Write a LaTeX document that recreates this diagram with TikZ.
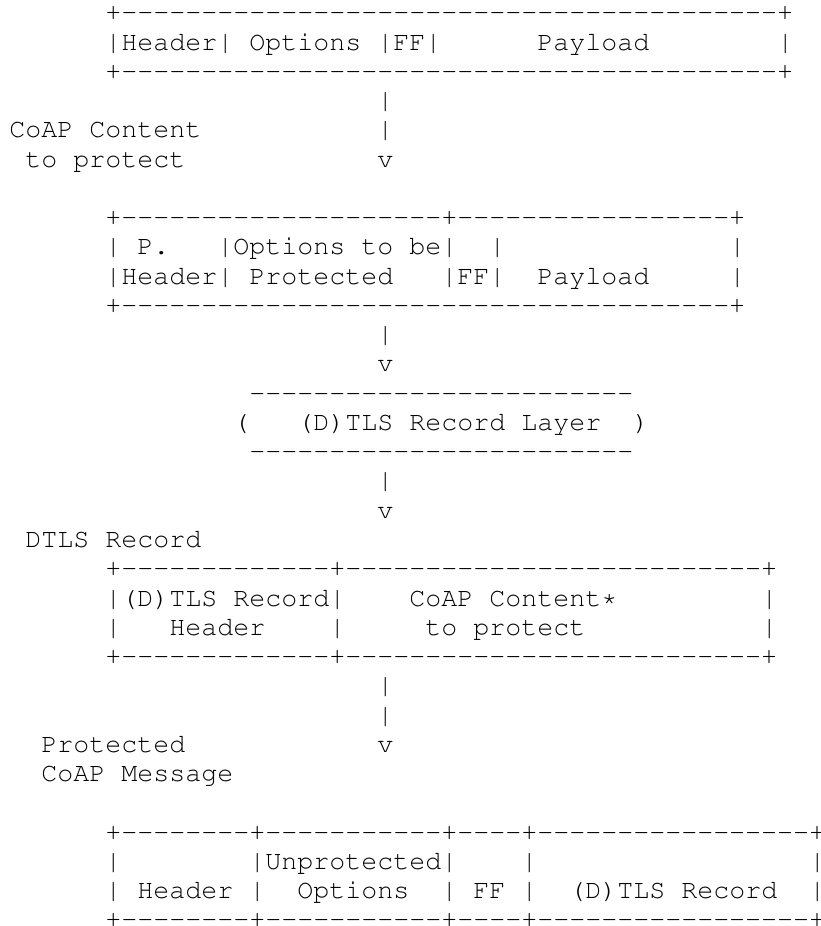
\documentclass[tikz,border=0pt]{standalone}
\usepackage[T1]{fontenc}
\usepackage{courier}
\usepackage{tikz}
\newcommand{\asciifont}{\ttfamily\fontsize{13.33}{14.63}\selectfont}
% a run of single hyphens, kept apart so that no -- ligature forms
\newcommand{\dashrun}[1]{\foreach \k in {1,...,#1}{-}}
\tikzstyle{ascii} = [font=\asciifont, inner sep=0pt, anchor=base west]

\begin{document}
\begin{tikzpicture}[x=8pt, y=-14.63pt]
    \useasboundingbox (-0.5625,0.289) rectangle (50.6875,31.936);

    % CoAP message as sent
    \node[ascii] (msg_top) at (6,1) {+\dashrun{41}+};
    \node[ascii] (msg_fields) at (6,2) {|Header| Options |FF|};
    \node[ascii] (msg_payload) at (33,2) {Payload};
    \node[ascii] (msg_end) at (48,2) {|};
    \node[ascii] (msg_bot) at (6,3) {+\dashrun{41}+};
    \node[ascii] (arr_a1) at (23,4) {|};
    \node[ascii] (lbl_content) at (0,5) {CoAP Content};
    \node[ascii] (arr_a2) at (23,5) {|};
    \node[ascii] (lbl_protect) at (1,6) {to protect};
    \node[ascii] (arr_a3) at (23,6) {v};

    % content handed to the record layer
    \node[ascii] (prot_top) at (6,8) {+\dashrun{20}+\dashrun{17}+};
    \node[ascii] (prot_l1) at (6,9) {|};
    \node[ascii] (prot_p) at (8,9) {P.};
    \node[ascii] (prot_opt1) at (13,9) {|Options to be|};
    \node[ascii] (prot_ff1) at (30,9) {|};
    \node[ascii] (prot_end1) at (45,9) {|};
    \node[ascii] (prot_hdr) at (6,10) {|Header|};
    \node[ascii] (prot_opt2) at (15,10) {Protected};
    \node[ascii] (prot_ff2) at (27,10) {|FF|};
    \node[ascii] (prot_payload) at (33,10) {Payload};
    \node[ascii] (prot_end2) at (45,10) {|};
    \node[ascii] (prot_bot) at (6,11) {+\dashrun{38}+};
    \node[ascii] (arr_b1) at (23,12) {|};
    \node[ascii] (arr_b2) at (23,13) {v};

    % record layer
    \node[ascii] (layer_top) at (15,14) {\dashrun{24}};
    \node[ascii] (layer_l) at (14,15) {(};
    \node[ascii] (layer_txt) at (18,15) {(D)TLS Record Layer};
    \node[ascii] (layer_r) at (39,15) {)};
    \node[ascii] (layer_bot) at (15,16) {\dashrun{24}};
    \node[ascii] (arr_c1) at (23,17) {|};
    \node[ascii] (arr_c2) at (23,18) {v};

    % DTLS record
    \node[ascii] (lbl_record) at (1,19) {DTLS Record};
    \node[ascii] (rec_top) at (6,20) {+\dashrun{13}+\dashrun{26}+};
    \node[ascii] (rec_hdr1) at (6,21) {|(D)TLS Record|};
    \node[ascii] (rec_content) at (25,21) {CoAP Content*};
    \node[ascii] (rec_end1) at (47,21) {|};
    \node[ascii] (rec_l2) at (6,22) {|};
    \node[ascii] (rec_hdr2) at (10,22) {Header};
    \node[ascii] (rec_mid2) at (20,22) {|};
    \node[ascii] (rec_protect) at (26,22) {to protect};
    \node[ascii] (rec_end2) at (47,22) {|};
    \node[ascii] (rec_bot) at (6,23) {+\dashrun{13}+\dashrun{26}+};
    \node[ascii] (arr_d1) at (23,24) {|};
    \node[ascii] (arr_d2) at (23,25) {|};
    \node[ascii] (lbl_protected) at (2,26) {Protected};
    \node[ascii] (arr_d3) at (23,26) {v};
    \node[ascii] (lbl_message) at (2,27) {CoAP Message};

    % protected message
    \node[ascii] (out_top) at (6,29) {+\dashrun{8}+\dashrun{11}+\dashrun{4}+\dashrun{17}+};
    \node[ascii] (out_l1) at (6,30) {|};
    \node[ascii] (out_opt1) at (15,30) {|Unprotected|};
    \node[ascii] (out_ff1) at (32,30) {|};
    \node[ascii] (out_end1) at (50,30) {|};
    \node[ascii] (out_l2) at (6,31) {|};
    \node[ascii] (out_hdr) at (8,31) {Header};
    \node[ascii] (out_s1) at (15,31) {|};
    \node[ascii] (out_opt2) at (18,31) {Options};
    \node[ascii] (out_s2) at (27,31) {|};
    \node[ascii] (out_ff2) at (29,31) {FF};
    \node[ascii] (out_s3) at (32,31) {|};
    \node[ascii] (out_rec) at (35,31) {(D)TLS Record};
    \node[ascii] (out_end2) at (50,31) {|};
    \node[ascii] (out_bot) at (6,32) {+\dashrun{8}+\dashrun{11}+\dashrun{4}+\dashrun{17}+};
\end{tikzpicture}
\end{document}
